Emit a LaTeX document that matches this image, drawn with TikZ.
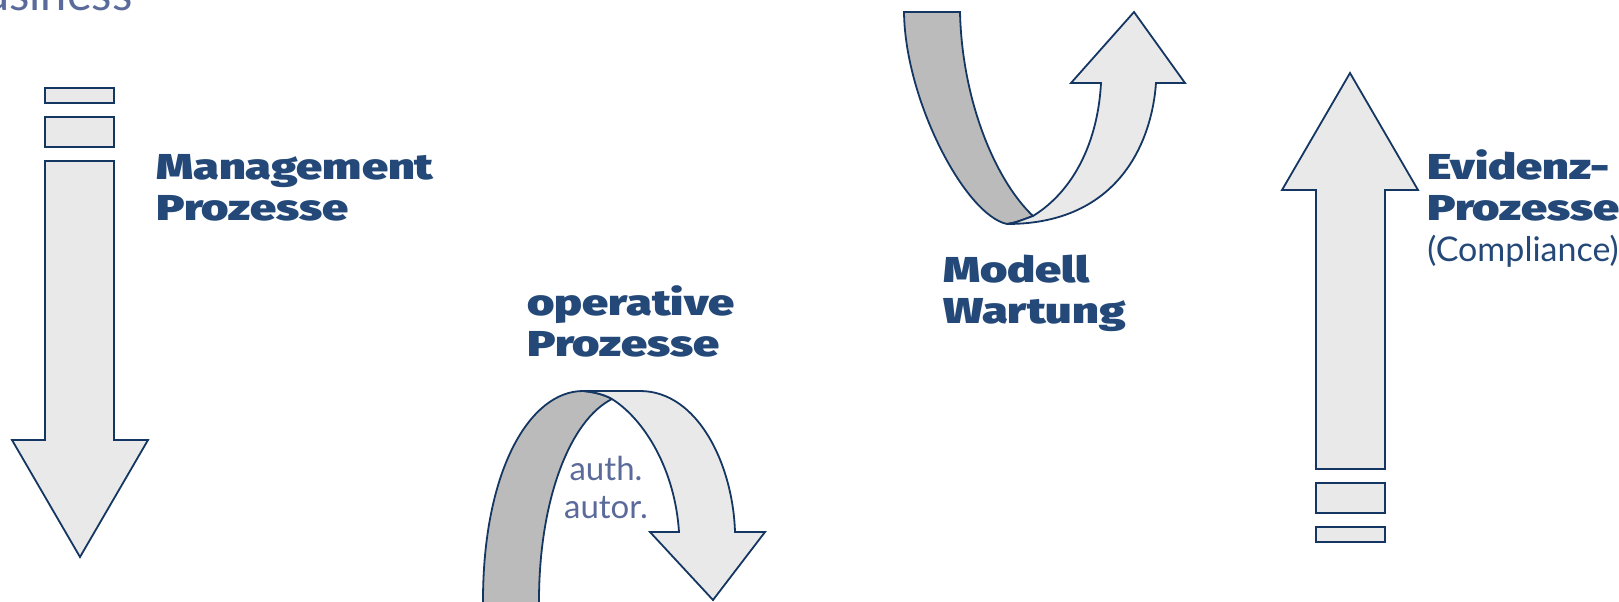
\documentclass[tikz,border=0pt]{standalone}
\usepackage{fontspec}
\setmainfont{Lato}
\IfFontExistsTF{Fira Sans Black}
  {\newfontfamily\heavyfont{Fira Sans Black}[FakeStretch=1.3]}
  {\newfontfamily\heavyfont{Fira Sans}[UprightFont={* Bold},FakeBold=1.5,FakeStretch=1.3]}
\definecolor{textblau}{RGB}{36,73,121}
\definecolor{linienblau}{RGB}{20,54,98}
\definecolor{schiefer}{RGB}{90,106,154}
\definecolor{hell}{RGB}{233,233,233}
\definecolor{dunkel}{RGB}{187,187,187}

\begin{document}
\begin{tikzpicture}[x=0.5pt,y=-0.5pt,
  pfeil/.style={draw=linienblau,line width=0.9pt,fill=hell},
  ruecken/.style={draw=linienblau,line width=0.9pt,fill=dunkel},
  titel/.style={font=\heavyfont\fontsize{18}{20.5}\selectfont,text=textblau,align=left,inner sep=0pt},
  notiz/.style={font=\fontsize{16.5}{19}\selectfont,text=schiefer,inner sep=0pt}]
\useasboundingbox (0,0) rectangle (1619,601);
\clip (0,0) rectangle (1619,601);

  % Management: Pfeil nach unten
\filldraw[pfeil] (45,161) -- (114,161) -- (114,440) -- (148,440) -- (80,557) -- (12,440) -- (45,440) -- cycle;
\filldraw[pfeil] (45,117) rectangle (114,147);
\filldraw[pfeil] (45,88) rectangle (114,103);

  % Evidenz: Pfeil nach oben
\filldraw[pfeil] (1316,469) -- (1385,469) -- (1385,190) -- (1418,190) -- (1350,73) -- (1282,190) -- (1316,190) -- cycle;
\filldraw[pfeil] (1316,483) rectangle (1385,513);
\filldraw[pfeil] (1316,527) rectangle (1385,542);

  % operative Prozesse: Bogen
\filldraw[ruecken] (483,612) -- (483,601) .. controls (483,470) and (530,391) .. (583,391)
   .. controls (595,392) and (605,395) .. (612,399) .. controls (570,420) and (539,500) .. (539,601) -- (539,612) -- cycle;
\filldraw[pfeil] (583,391) -- (640,391) .. controls (698,391) and (733,465) .. (735,532)
   -- (765,532) -- (713,600) -- (650,532) -- (679,532)
   .. controls (675,470) and (645,420) .. (612,399) .. controls (605,395) and (595,392) .. (583,391) -- cycle;

  % Modell Wartung: Bogen
\filldraw[ruecken] (904,12) -- (960,12) .. controls (962,100) and (995,180) .. (1033,216)
   .. controls (1022,220) and (1015,223) .. (1007,224) .. controls (965,215) and (905,100) .. (904,12) -- cycle;
\filldraw[pfeil] (1007,224) .. controls (1015,223) and (1022,220) .. (1033,216)
   .. controls (1075,190) and (1098,140) .. (1101,83) -- (1071,83) -- (1134,12) -- (1185,83) -- (1156,83)
   .. controls (1152,140) and (1120,224) .. (1007,224) -- cycle;

  % Texte
\node[notiz,font=\fontsize{23.5}{28}\selectfont,anchor=base east] (business) at (133,10) {Business};
\node[titel,anchor=base west] (management) at (156,220) {Management\\Prozesse};
\node[titel,anchor=base west] (operativ) at (527,356) {operative\\Prozesse};
\node[notiz,align=center,anchor=base] (auth) at (606,518) {auth.\\autor.};
\node[titel,anchor=base west] (wartung) at (943,323) {Modell\\Wartung};
\node[titel,anchor=base west] (evidenz) at (1427,220) {Evidenz-\\Prozesse};
\node[notiz,font=\fontsize{17}{20}\selectfont,text=textblau,anchor=base west] (compliance) at (1427,261) {(Compliance)};
\end{tikzpicture}
\end{document}
